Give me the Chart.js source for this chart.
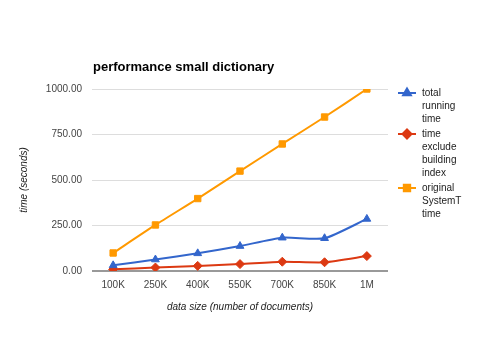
<!DOCTYPE html>
<html>
<head>
<meta charset="utf-8">
<script src="https://cdn.jsdelivr.net/npm/chart.js@4"></script>
<style>
  html, body { margin: 0; padding: 0; background: #fff; }
  #wrap { width: 480px; height: 360px; }
</style>
</head>
<body>
<div id="wrap"><canvas id="grafico" width="480" height="360"></canvas></div>
<script>
// Dados
const categorias = ["100K", "250K", "400K", "550K", "700K", "850K", "1M"];
const tempoTotal = [31, 63, 97, 137, 183, 180, 286];
const tempoSemIndice = [9, 19, 28, 38, 51, 48, 82];
const tempoSystemT = [99, 253, 398, 549, 698, 846, 1000];
const nomesSeries = ["total running time", "time exclude building index", "original SystemT time"];
const linhasLegenda = [["total", "running", "time"], ["time", "exclude", "building", "index"], ["original", "SystemT", "time"]];
const titulo = "performance small dictionary";

const fonte = "Arial, 'Liberation Sans', sans-serif";

// Desenha o título e a legenda à direita (texto quebrado em várias linhas)
const extras = {
  id: "extras",
  afterDraw(chart) {
    const ctx = chart.ctx;
    const area = chart.chartArea;
    ctx.save();
    ctx.fillStyle = "#000";
    ctx.font = "bold 13px " + fonte;
    ctx.textBaseline = "middle";
    ctx.textAlign = "left";
    ctx.fillText(titulo, area.left + 1, 67);

    let y = 93;
    chart.data.datasets.forEach((ds, i) => {
      const xm = 407;
      ctx.strokeStyle = ds.borderColor;
      ctx.lineWidth = 2;
      ctx.beginPath();
      ctx.moveTo(398, y);
      ctx.lineTo(416, y);
      ctx.stroke();
      ctx.fillStyle = ds.pointBackgroundColor;
      ctx.strokeStyle = ds.pointBorderColor;
      Chart.helpers.drawPoint(ctx, { pointStyle: ds.pointStyle, radius: ds.pointRadius, borderWidth: 1, rotation: 0 }, xm, y);
      ctx.fillStyle = "#222";
      ctx.font = "10px " + fonte;
      linhasLegenda[i].forEach((linha, k) => {
        ctx.fillText(linha, 422, y + k * 13);
      });
      y += linhasLegenda[i].length * 13 + 2;
    });
    ctx.restore();
  }
};

const ctx = document.getElementById("grafico").getContext("2d");
const grafico = new Chart(ctx, {
  type: "line",
  data: {
    labels: categorias,
    datasets: [
      {
        label: nomesSeries[0],
        data: tempoTotal,
        borderColor: "#3366cc",
        pointBackgroundColor: "#3366cc",
        pointBorderColor: "#3366cc",
        pointStyle: "triangle",
        pointRadius: 4.5,
      },
      {
        label: nomesSeries[1],
        data: tempoSemIndice,
        borderColor: "#dc3912",
        pointBackgroundColor: "#dc3912",
        pointBorderColor: "#dc3912",
        pointStyle: "rectRot",
        pointRadius: 4.5,
      },
      {
        label: nomesSeries[2],
        data: tempoSystemT,
        borderColor: "#ff9900",
        pointBackgroundColor: "#ff9900",
        pointBorderColor: "#ff9900",
        pointStyle: "rect",
        pointRadius: 4.5,
      },
    ],
  },
  options: {
    responsive: false,
    animation: false,
    devicePixelRatio: 1,
    layout: { padding: { left: 0, right: 92, top: 89, bottom: 0 } },
    elements: {
      line: { borderWidth: 2, tension: 0.2, fill: false },
      point: { borderWidth: 1 },
    },
    plugins: {
      legend: { display: false },
      title: { display: false },
      tooltip: { enabled: false },
    },
    scales: {
      x: {
        offset: true,
        grid: { display: false, drawTicks: false },
        border: { display: false },
        ticks: { color: "#444", font: { family: fonte, size: 10 }, padding: 8, maxRotation: 0 },
        title: {
          display: true,
          text: "data size (number of documents)",
          color: "#222",
          font: { family: fonte, size: 10, style: "italic" },
          padding: { top: 47, bottom: 47 },
        },
        afterFit(scale) { scale.height = 89; },
      },
      y: {
        min: 0,
        max: 1000,
        grid: {
          drawTicks: false,
          color: (c) => (c.tick && c.tick.value === 0 ? "#999" : "#ddd"),
          lineWidth: (c) => (c.tick && c.tick.value === 0 ? 2 : 1),
        },
        border: { display: false },
        ticks: {
          stepSize: 250,
          color: "#444",
          padding: 10,
          font: { family: fonte, size: 10 },
          callback: (v) => v.toFixed(2),
        },
        title: {
          display: true,
          text: "time (seconds)",
          color: "#222",
          font: { family: fonte, size: 10, style: "italic" },
          padding: { top: 18, bottom: 18 },
        },
        afterFit(scale) { scale.width = 92; },
      },
    },
  },
  plugins: [extras],
});
</script>
</body>
</html>
